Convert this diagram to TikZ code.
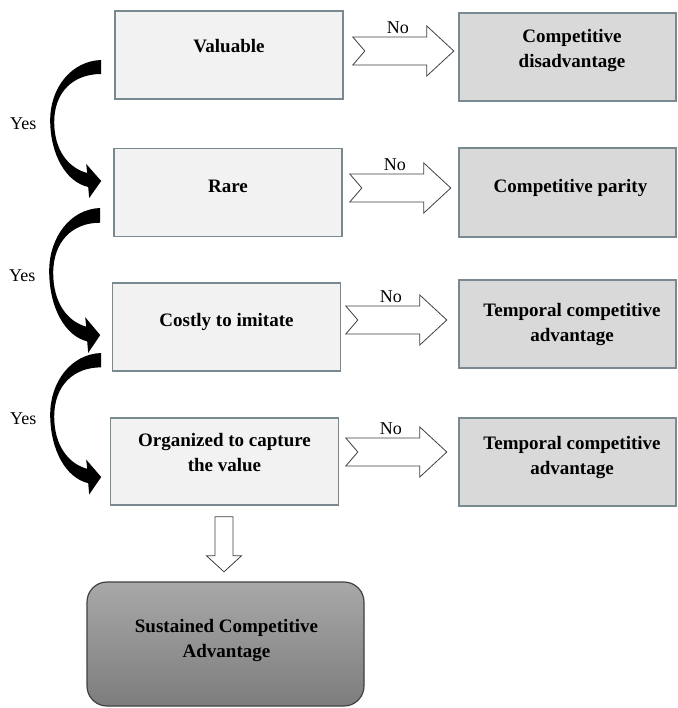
\documentclass[tikz,border=0pt]{standalone}
\usepackage{fontspec}
\setmainfont{Liberation Serif}
\usetikzlibrary{calc}
\definecolor{edgegray}{HTML}{7A8890}
\definecolor{lightfill}{HTML}{F2F2F2}
\definecolor{midfill}{HTML}{D9D9D9}
\definecolor{deeptop}{HTML}{A8A8A8}
\definecolor{deepbot}{HTML}{7D7D7D}
\definecolor{deepedge}{HTML}{404040}
\begin{document}
\begin{tikzpicture}[x=1pt,y=-1pt,
  testbox/.style={draw=edgegray, line width=1.6pt, fill=lightfill,
    minimum width=228pt, minimum height=88pt, inner sep=0pt},
  outbox/.style={testbox, fill=midfill, minimum width=217pt},
  boxtext/.style={font=\bfseries\fontsize{19}{25}\selectfont, align=center, inner sep=0pt},
  oneline/.style={boxtext, text height=13pt, text depth=4pt},
  lbl/.style={font=\fontsize{18}{22}\selectfont, inner sep=0pt},
  hollow/.style={draw=deepedge, fill=white, line width=0.8pt, line join=miter},
  % notched block arrow with its "No" label
  noarrow/.pic={
    \draw[hollow] (0,-14) -- (74,-14) -- (74,-25) -- (101,0) -- (74,25)
      -- (74,14) -- (0,14) -- (12,0) -- cycle;
    \node[lbl, anchor=base] (-no) at (45,-17.5) {No};
  },
  % thick curved arrow with its "Yes" label
  yesarrow/.pic={
    \fill[black] (0,0) .. controls (-30,1) and (-51,28) .. (-51,60)
      .. controls (-51,95) and (-35,122) .. (-13,127)
      -- (-12,138) -- (0,121) -- (-15,104) -- (-14,113)
      .. controls (-33,108) and (-47,90) .. (-47,62)
      .. controls (-47,32) and (-28,14) .. (0,14) -- cycle;
    \node[lbl, anchor=base] (-yes) at (-78,70) {Yes};
  },
  downarrow/.pic={
    \draw[hollow] (-9,0) -- (9,0) -- (9,39) -- (17.5,39) -- (0,55)
      -- (-17.5,39) -- (-9,39) -- cycle;
  },
]
\useasboundingbox (0,0) rectangle (677,708);

% decision steps
\node[testbox] (v) at (229,55) {};
\node[testbox] (r) at (228,192.5) {};
\node[testbox] (c) at (226.5,327) {};
\node[testbox, minimum height=87pt] (o) at (224.5,461.5) {};

% outcomes
\node[outbox] (d) at (567.5,57) {};
\node[outbox, minimum height=89pt] (p) at (567.5,192.5) {};
\node[outbox] (t1) at (567.5,324) {};
\node[outbox] (t2) at (567.5,462) {};
\node[draw=deepedge, line width=1.2pt, rounded corners=20pt,
  top color=deeptop, bottom color=deepbot,
  minimum width=277pt, minimum height=124pt] (s) at (225.5,644) {};

% box texts
\node[oneline] (vt) at ([yshift=6.5pt]v.center) {Valuable};
\node[oneline] (rt) at ([yshift=4pt]r.center) {Rare};
\node[oneline] (ct) at ([yshift=5.5pt]c.center) {Costly to imitate};
\node[boxtext] (ot) at ([yshift=8.5pt]o.center) {Organized to capture\\the value};
\node[boxtext] (dt) at ([xshift=4.5pt,yshift=6pt]d.center) {Competitive\\disadvantage};
\node[oneline] (pt) at ([xshift=3pt,yshift=4pt]p.center) {Competitive parity};
\node[boxtext] (t1t) at ([xshift=4.5pt,yshift=-1pt]t1.center) {Temporal competitive\\advantage};
\node[boxtext] (t2t) at ([xshift=4.5pt,yshift=4pt]t2.center) {Temporal competitive\\advantage};
\node[boxtext] (st) at ([xshift=1pt,yshift=4pt]s.center) {Sustained Competitive\\Advantage};

% "Yes" paths down the steps
\pic (y1) at ($(v.west)+(-13,5)$) {yesarrow};
\pic[yscale=1.05] (y2) at ($(r.west)+(-13,15.5)$) {yesarrow};
\pic[yscale=1.025] (y3) at ($(c.west)+(-10.5,26)$) {yesarrow};

% "No" exits to the outcomes
\pic (n1) at ($(v.east)+(9,-4)$) {noarrow};
\pic (n2) at ($(r.east)+(7,-4.5)$) {noarrow};
\pic (n3) at ($(c.east)+(4.5,-7)$) {noarrow};
\pic (n4) at ($(o.east)+(6.5,-9.5)$) {noarrow};

% final step
\pic (dn) at ($(o.south)+(-0.5,11)$) {downarrow};
\end{tikzpicture}
\end{document}
